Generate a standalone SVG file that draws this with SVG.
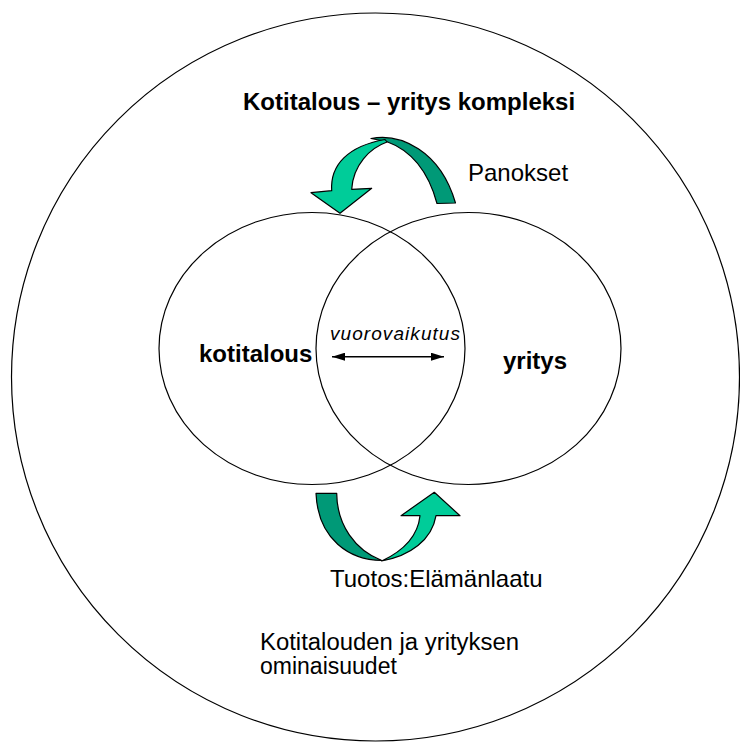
<svg xmlns="http://www.w3.org/2000/svg" width="740" height="742" viewBox="0 0 740 742">
<defs>
<style>
.ring{fill:none;stroke:#000;stroke-width:1.2}
.t{font-family:"Liberation Sans",Arial,sans-serif;font-size:24px;fill:#000}
.b{font-weight:bold}
.s{font-size:23px}
.light{fill:#00CC99;stroke:#000;stroke-width:1.2;stroke-linejoin:round}
.dark{fill:#009977;stroke:#000;stroke-width:1.2;stroke-linejoin:round}
</style>
<marker id="ah" viewBox="0 0 13 8" refX="13" refY="4" markerWidth="13" markerHeight="8" markerUnits="userSpaceOnUse" orient="auto-start-reverse">
<path d="M0,0 L13,4 L0,8 Z" fill="#000"/>
</marker>
</defs>
<rect width="740" height="742" fill="#fff"/>

<g id="complex">
<circle class="ring" cx="375.5" cy="377" r="364"/>
<text class="t b" x="243" y="110">Kotitalous – yritys kompleksi</text>
<text class="t s" x="260" y="650" textLength="259" lengthAdjust="spacingAndGlyphs">Kotitalouden ja yrityksen</text>
<text class="t s" x="260" y="674">ominaisuudet</text>
</g>

<g id="kotitalous">
<ellipse class="ring" cx="312" cy="348.5" rx="153" ry="136"/>
<text class="t b" x="199" y="362">kotitalous</text>
</g>

<g id="yritys">
<ellipse class="ring" cx="468.5" cy="348.5" rx="152.5" ry="136"/>
<text class="t b" x="503" y="369">yritys</text>
</g>

<g id="connectors">
<path class="dark" d="M371,138.5 C400,133 440,150 455.5,203 L437,203.5 C428,170 410,150 386.5,141.5 Z"/>
<path class="light" d="M331.7,190.7 C330,165 348,146 385,139.5 L387,142 C370,148 353,165 351.7,189.3 L371.7,188.3 L340,213.3 L311,192.7 Z"/>
<text class="t" x="468" y="181">Panokset</text>

<path class="dark" d="M316,493.3 L336.7,493.3 C337,525 355,550 381.7,560.5 C350,560 318,540 316,493.3 Z"/>
<path class="light" d="M381.7,561 C410,556 432,540 436,515.7 L460,515.7 L434.3,492.3 L401,515.7 L420,515.7 C418,535 405,550 381.7,561 Z"/>
<text class="t" x="330" y="587">Tuotos:Elämänlaatu</text>

<line x1="332" y1="356.7" x2="444" y2="356.7" stroke="#000" stroke-width="1.6" marker-start="url(#ah)" marker-end="url(#ah)"/>
<text class="t" x="330" y="340" font-style="italic" style="font-size:19px" textLength="130" lengthAdjust="spacing">vuorovaikutus</text>
</g>
</svg>
